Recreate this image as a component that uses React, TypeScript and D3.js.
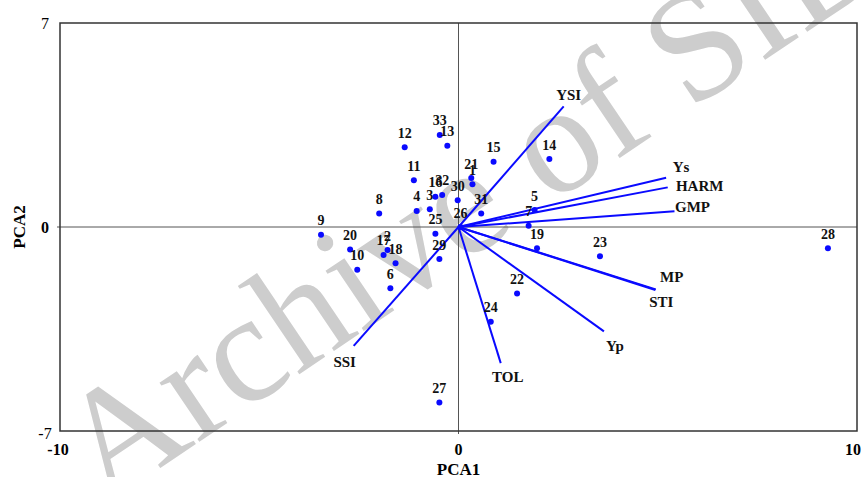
import React, { useEffect, useRef } from "react"
import * as d3 from "d3"

// genotype scores (PCA1, PCA2)
const genotypes = [
  "1", "2", "3", "4", "5", "6", "7", "8", "9", "10", "11", "12", "13", "14", "15", "16", "17",
  "18", "19", "20", "21", "22", "23", "24", "25", "26", "27", "28", "29", "30", "31", "32", "33",
]
const pca1 = [
  0.35, -1.78, -0.72, -1.05, 1.91, -1.71, 1.76, -1.99, -3.45, -2.54, -1.12, -1.35, -0.28, 2.28,
  0.88, -0.58, -1.88, -1.58, 1.97, -2.72, 0.32, 1.47, 3.55, 0.81, -0.58, 0.05, -0.48, 9.27, -0.48,
  -0.02, 0.57, -0.41, -0.47,
]
const pca2 = [
  1.47, -0.79, 0.61, 0.55, 0.58, -2.1, 0.04, 0.46, -0.27, -1.47, 1.6, 2.74, 2.79, 2.33, 2.24, 1.04,
  -0.96, -1.24, -0.73, -0.77, 1.68, -2.28, -1.0, -3.25, -0.23, 0.0, -6.02, -0.73, -1.1, 0.92, 0.46,
  1.1, 3.16,
]

// index vectors
const indices = ["YSI", "Ys", "HARM", "GMP", "MP", "STI", "Yp", "TOL", "SSI"]
const vecX = [2.64, 5.21, 5.25, 5.42, 4.95, 4.94, 3.65, 1.06, -2.63]
const vecY = [4.14, 1.69, 1.36, 0.54, -2.14, -2.16, -3.58, -4.67, -4.08]

const xTicks = [-10, 0, 10]
const yTicks = [-7, 0, 7]

// label placement relative to vector tip (px)
const labelShift: Record<string, [number, number]> = {
  YSI: [5, -11],
  Ys: [15, -11],
  HARM: [32, -1],
  GMP: [18, -4],
  MP: [16, -12],
  STI: [6, 12],
  Yp: [11, 15],
  TOL: [7, 14],
  SSI: [-9, 16],
}

const App = () => {
  const ref = useRef<SVGSVGElement>(null)

  useEffect(() => {
    const width = 867
    const height = 477
    const m = { top: 23, right: 10, bottom: 46, left: 60 }
    const font = "'Liberation Serif', 'Times New Roman', serif"
    const blue = "#0a0aff"

    const svg = d3.select(ref.current)
    svg.selectAll("*").remove()
    svg.attr("width", width).attr("height", height)

    const x = d3.scaleLinear().domain([-10, 10]).range([m.left, width - m.right])
    const y = d3.scaleLinear().domain([-7, 7]).range([height - m.bottom, m.top])

    // watermark
    svg
      .append("text")
      .attr("transform", "translate(104,506) rotate(-34)")
      .attr("font-family", font)
      .attr("font-size", 155)
      .attr("fill", "#cdcdcd")
      .text("Archive of SID")

    // zero lines
    svg
      .append("line")
      .attr("x1", x(-10) - 3)
      .attr("x2", x(10))
      .attr("y1", y(0))
      .attr("y2", y(0))
      .attr("stroke", "#555")
      .attr("stroke-width", 1)
    svg
      .append("line")
      .attr("x1", x(0))
      .attr("x2", x(0))
      .attr("y1", y(7))
      .attr("y2", y(-7) + 3)
      .attr("stroke", "#555")
      .attr("stroke-width", 1)

    // frame
    svg
      .append("rect")
      .attr("x", x(-10))
      .attr("y", y(7))
      .attr("width", x(10) - x(-10))
      .attr("height", y(-7) - y(7))
      .attr("fill", "none")
      .attr("stroke", "#333")
      .attr("stroke-width", 1.5)

    // tick labels
    svg
      .selectAll(".xt")
      .data(xTicks)
      .join("text")
      .attr("x", (d) => x(d) + (d === -10 ? -2 : d === 10 ? -4 : 0))
      .attr("y", height - m.bottom + 18)
      .attr("text-anchor", "middle")
      .attr("dominant-baseline", "central")
      .attr("font-family", font)
      .attr("font-weight", "bold")
      .attr("font-size", 16)
      .text((d) => d)
    svg
      .selectAll(".yt")
      .data(yTicks)
      .join("text")
      .attr("x", 45)
      .attr("y", (d) => y(d) + (d === -7 ? 2 : 0))
      .attr("text-anchor", "middle")
      .attr("dominant-baseline", "central")
      .attr("font-family", font)
      .attr("font-weight", (d) => (d === 0 ? "bold" : "normal"))
      .attr("font-size", 16)
      .text((d) => d)

    // axis titles
    svg
      .append("text")
      .attr("x", x(0))
      .attr("y", 469)
      .attr("text-anchor", "middle")
      .attr("dominant-baseline", "central")
      .attr("font-family", font)
      .attr("font-weight", "bold")
      .attr("font-size", 17)
      .text("PCA1")
    svg
      .append("text")
      .attr("transform", `translate(19,${y(0)}) rotate(-90)`)
      .attr("text-anchor", "middle")
      .attr("dominant-baseline", "central")
      .attr("font-family", font)
      .attr("font-weight", "bold")
      .attr("font-size", 17)
      .text("PCA2")

    // vectors
    svg
      .selectAll(".vec")
      .data(indices)
      .join("line")
      .attr("x1", x(0))
      .attr("y1", y(0))
      .attr("x2", (_, i) => x(vecX[i]))
      .attr("y2", (_, i) => y(vecY[i]))
      .attr("stroke", blue)
      .attr("stroke-width", 2)
    svg
      .selectAll(".vlab")
      .data(indices)
      .join("text")
      .attr("x", (d, i) => x(vecX[i]) + labelShift[d][0])
      .attr("y", (d, i) => y(vecY[i]) + labelShift[d][1])
      .attr("text-anchor", "middle")
      .attr("dominant-baseline", "central")
      .attr("font-family", font)
      .attr("font-weight", "bold")
      .attr("font-size", 15)
      .attr("fill", "#111")
      .text((d) => d)

    // genotype points
    svg
      .selectAll(".pt")
      .data(genotypes)
      .join("circle")
      .attr("cx", (_, i) => x(pca1[i]))
      .attr("cy", (_, i) => y(pca2[i]))
      .attr("r", 3)
      .attr("fill", blue)
    svg
      .selectAll(".plab")
      .data(genotypes)
      .join("text")
      .attr("x", (_, i) => x(pca1[i]))
      .attr("y", (_, i) => y(pca2[i]) - 14)
      .attr("text-anchor", "middle")
      .attr("dominant-baseline", "central")
      .attr("font-family", font)
      .attr("font-weight", "bold")
      .attr("font-size", 14)
      .attr("fill", "#111")
      .text((d) => d)
  }, [])

  return <svg ref={ref} style={{ position: "absolute", left: 0, top: 0 }} />
}

export default App
